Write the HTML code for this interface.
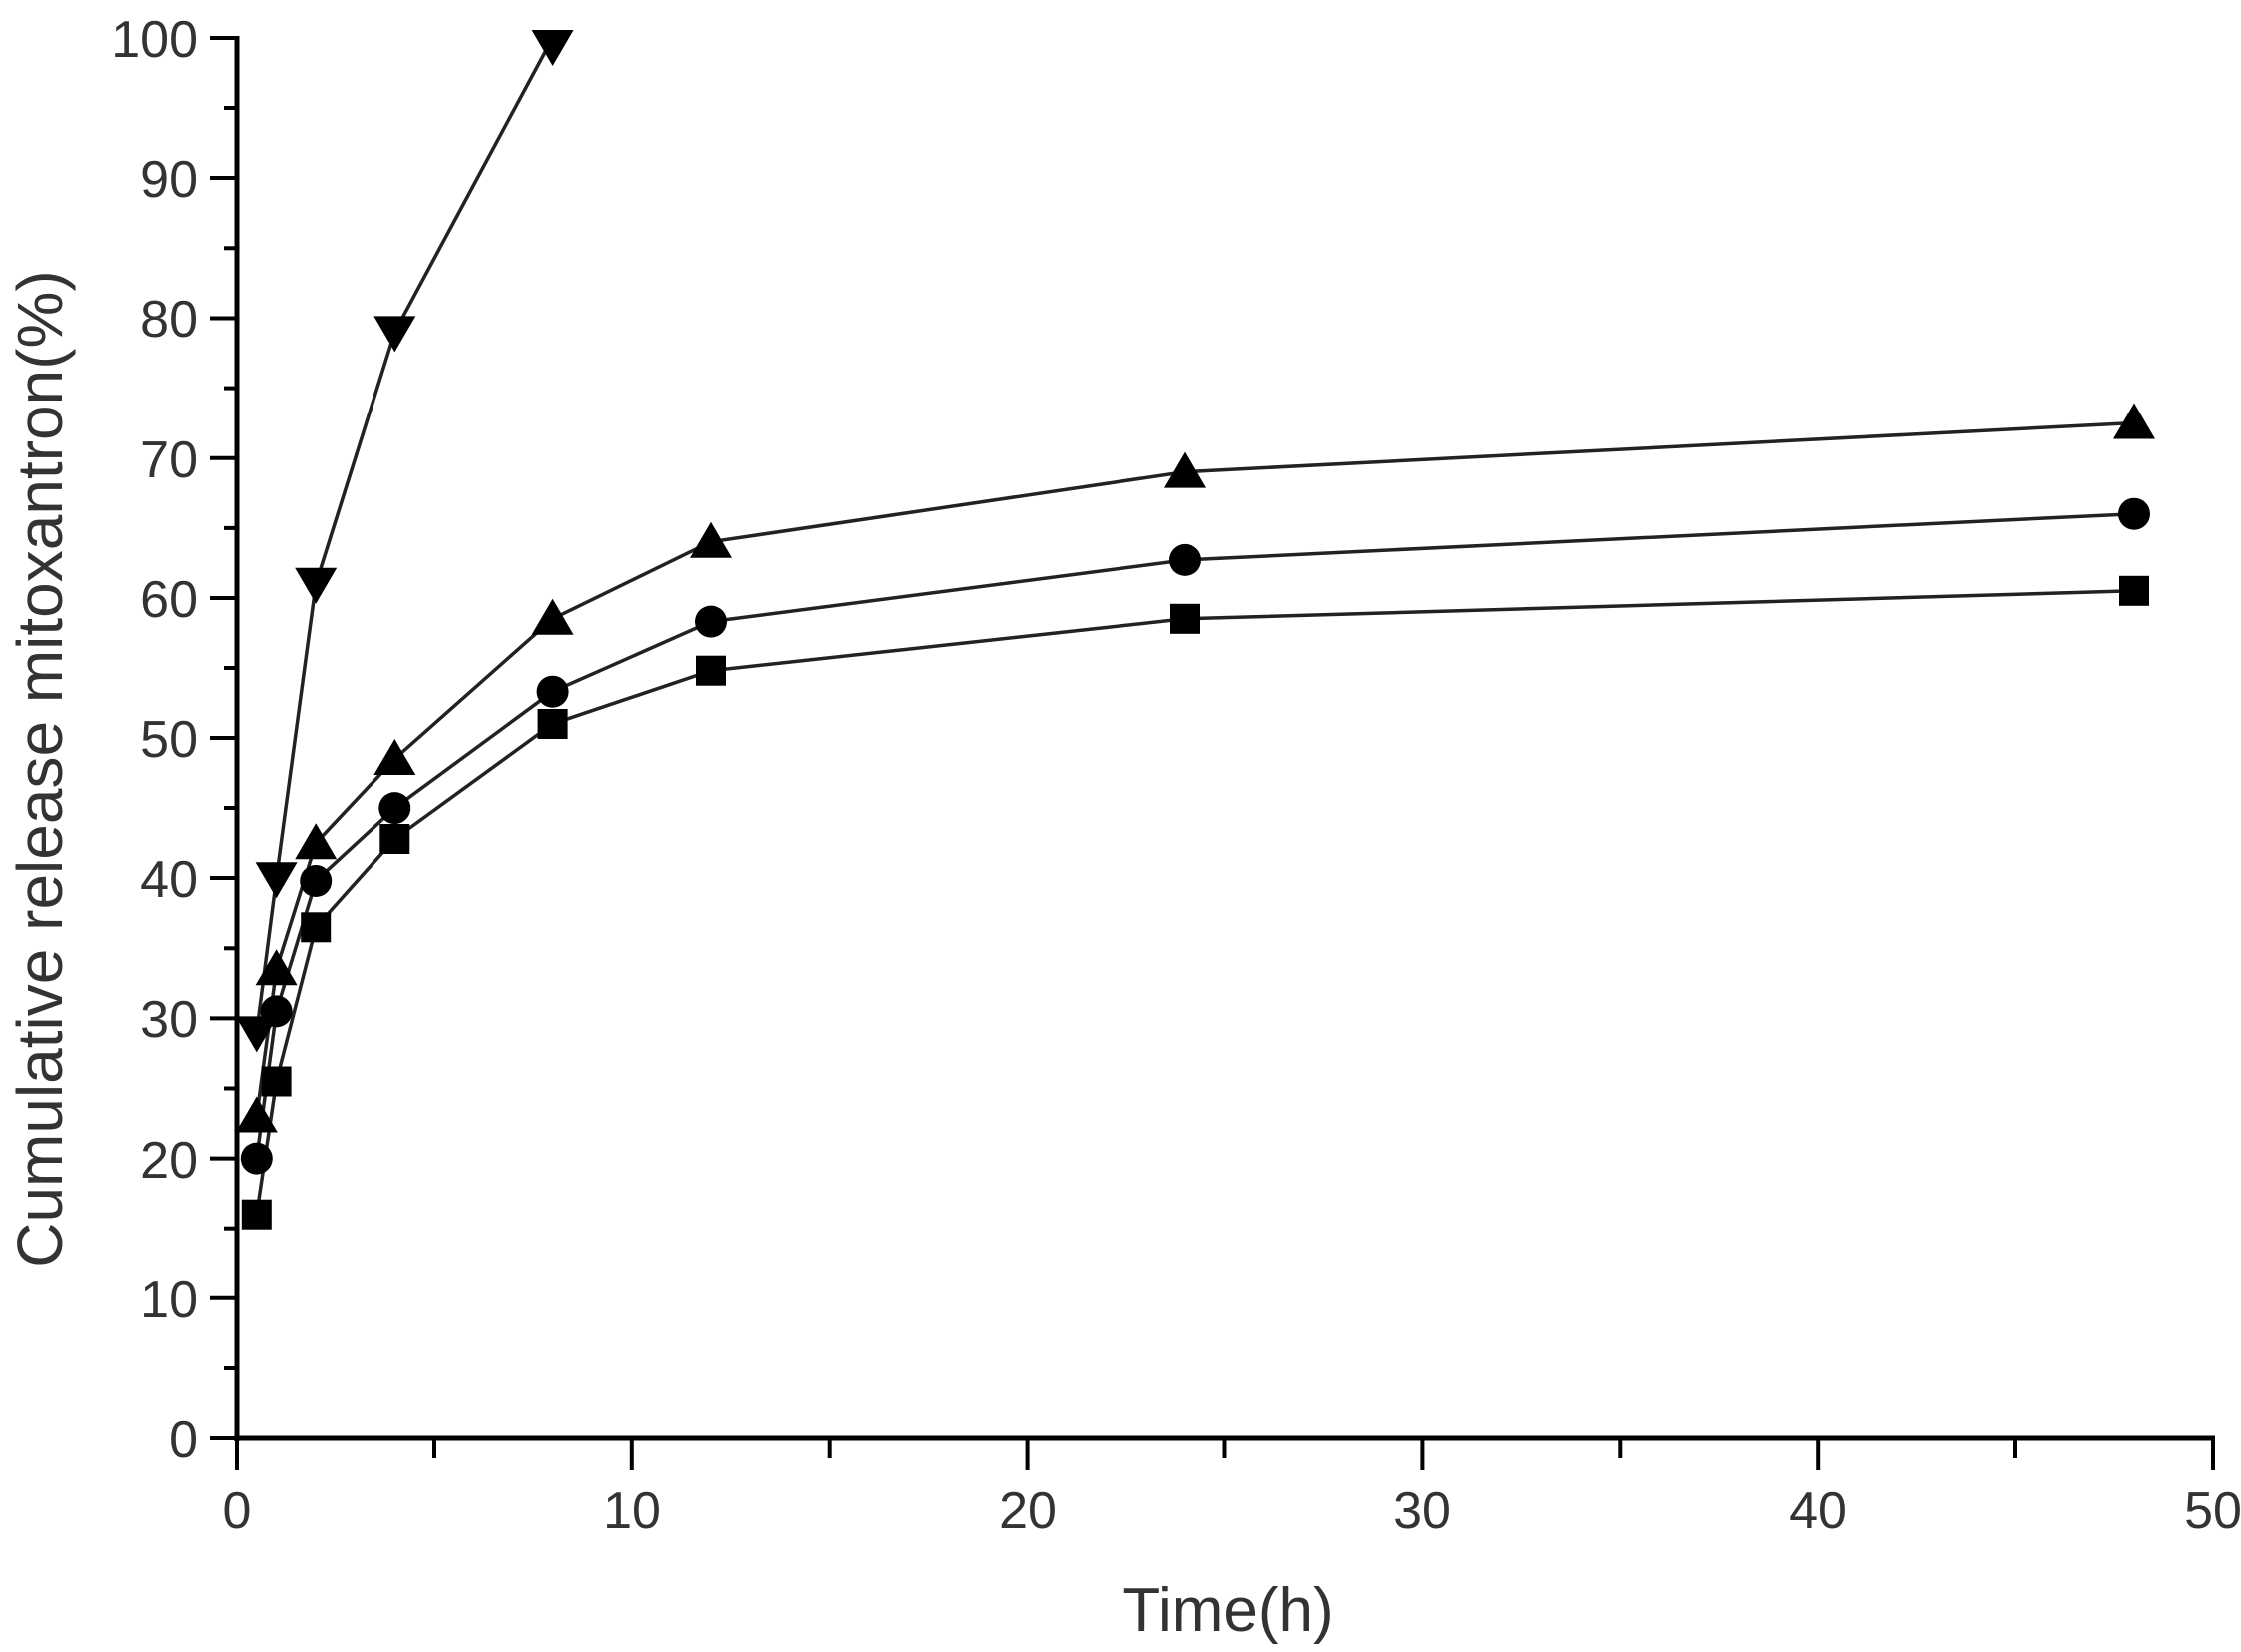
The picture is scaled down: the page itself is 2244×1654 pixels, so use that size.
<!DOCTYPE html>
<html><head><meta charset="utf-8"><style>
html,body{margin:0;padding:0;background:#fff;}
svg{display:block;}
text{font-family:"Liberation Sans",sans-serif;fill:#333;}
</style></head><body>
<svg width="2244" height="1654" viewBox="0 0 2244 1654" xmlns="http://www.w3.org/2000/svg">
<defs>
<path id="dt" d="M-21,-16 L21,-16 L0,20 Z" fill="#000"/>
<path id="ut" d="M-21,16 L21,16 L0,-20 Z" fill="#000"/>
<circle id="ci" r="16" fill="#000"/>
<rect id="sq" x="-15" y="-15" width="30" height="30" fill="#000"/>
</defs>
<g stroke="#000" stroke-width="5" fill="none">
<line x1="237" y1="36" x2="237" y2="1443"/>
<line x1="234" y1="1440" x2="2218" y2="1440"/>
</g>
<g stroke="#000" stroke-width="4">
<line x1="210" y1="38" x2="237" y2="38"/><line x1="210" y1="178" x2="237" y2="178"/>
<line x1="210" y1="318.5" x2="237" y2="318.5"/><line x1="210" y1="458.7" x2="237" y2="458.7"/>
<line x1="210" y1="599" x2="237" y2="599"/><line x1="210" y1="739" x2="237" y2="739"/>
<line x1="210" y1="879" x2="237" y2="879"/><line x1="210" y1="1019.4" x2="237" y2="1019.4"/>
<line x1="210" y1="1159.6" x2="237" y2="1159.6"/><line x1="210" y1="1299.8" x2="237" y2="1299.8"/>
<line x1="210" y1="1440" x2="237" y2="1440"/>
<line x1="224" y1="108" x2="237" y2="108"/><line x1="224" y1="248.3" x2="237" y2="248.3"/>
<line x1="224" y1="388.6" x2="237" y2="388.6"/><line x1="224" y1="528.9" x2="237" y2="528.9"/>
<line x1="224" y1="669" x2="237" y2="669"/><line x1="224" y1="809" x2="237" y2="809"/>
<line x1="224" y1="949.3" x2="237" y2="949.3"/><line x1="224" y1="1089.5" x2="237" y2="1089.5"/>
<line x1="224" y1="1229.7" x2="237" y2="1229.7"/><line x1="224" y1="1370" x2="237" y2="1370"/>
<line x1="237" y1="1440" x2="237" y2="1472"/><line x1="632.8" y1="1440" x2="632.8" y2="1472"/>
<line x1="1028.6" y1="1440" x2="1028.6" y2="1472"/><line x1="1424.4" y1="1440" x2="1424.4" y2="1472"/>
<line x1="1820.2" y1="1440" x2="1820.2" y2="1472"/><line x1="2216" y1="1440" x2="2216" y2="1472"/>
<line x1="435" y1="1440" x2="435" y2="1460"/><line x1="830.7" y1="1440" x2="830.7" y2="1460"/>
<line x1="1226.5" y1="1440" x2="1226.5" y2="1460"/><line x1="1622.3" y1="1440" x2="1622.3" y2="1460"/>
<line x1="2018" y1="1440" x2="2018" y2="1460"/>
</g>
<g font-size="52" text-anchor="end">
<text x="198" y="57">100</text><text x="198" y="197">90</text><text x="198" y="337">80</text>
<text x="198" y="478">70</text><text x="198" y="618">60</text><text x="198" y="758">50</text>
<text x="198" y="898">40</text><text x="198" y="1038">30</text><text x="198" y="1179">20</text>
<text x="198" y="1319">10</text><text x="198" y="1459">0</text>
</g>
<g font-size="52" text-anchor="middle">
<text x="237" y="1530">0</text><text x="633" y="1530">10</text><text x="1029" y="1530">20</text>
<text x="1424" y="1530">30</text><text x="1820" y="1530">40</text><text x="2216" y="1530">50</text>
</g>
<text x="1230" y="1633" font-size="62" text-anchor="middle">Time(h)</text>
<text transform="translate(62,770) rotate(-90)" font-size="64" text-anchor="middle">Cumulative release mitoxantron(%)</text>
<g fill="none" stroke="#222" stroke-width="3.5">
<polyline points="256.8,1033.4 276.6,879.2 316.2,584.8 395.3,332.4 553.6,38"/>
<polyline points="256.8,1117.5 276.6,970.3 316.2,844.2 395.3,760 553.6,619.8 712,542.7 1187,472.6 2137,423.5"/>
<polyline points="256.8,1159.6 276.6,1012.4 316.2,882 395.3,809.1 553.6,692.7 712,622.6 1187,560.9 2137,514.7"/>
<polyline points="256.8,1215.7 276.6,1082.5 316.2,928.3 395.3,840 553.6,725 712,671.7 1187,619.8 2137,591.8"/>
</g>
<use href="#dt" x="256.8" y="1033.4"/><use href="#dt" x="276.6" y="879.2"/><use href="#dt" x="316.2" y="584.8"/><use href="#dt" x="395.3" y="332.4"/><use href="#dt" x="553.6" y="46"/>
<use href="#ut" x="256.8" y="1117.5"/><use href="#ut" x="276.6" y="970.3"/><use href="#ut" x="316.2" y="844.2"/><use href="#ut" x="395.3" y="760"/><use href="#ut" x="553.6" y="619.8"/><use href="#ut" x="712" y="542.7"/><use href="#ut" x="1187" y="472.6"/><use href="#ut" x="2137" y="423.5"/>
<use href="#ci" x="256.8" y="1159.6"/><use href="#ci" x="276.6" y="1012.4"/><use href="#ci" x="316.2" y="882"/><use href="#ci" x="395.3" y="809.1"/><use href="#ci" x="553.6" y="692.7"/><use href="#ci" x="712" y="622.6"/><use href="#ci" x="1187" y="560.9"/><use href="#ci" x="2137" y="514.7"/>
<use href="#sq" x="256.8" y="1215.7"/><use href="#sq" x="276.6" y="1082.5"/><use href="#sq" x="316.2" y="928.3"/><use href="#sq" x="395.3" y="840"/><use href="#sq" x="553.6" y="725"/><use href="#sq" x="712" y="671.7"/><use href="#sq" x="1187" y="619.8"/><use href="#sq" x="2137" y="591.8"/>
</svg>
</body></html>
